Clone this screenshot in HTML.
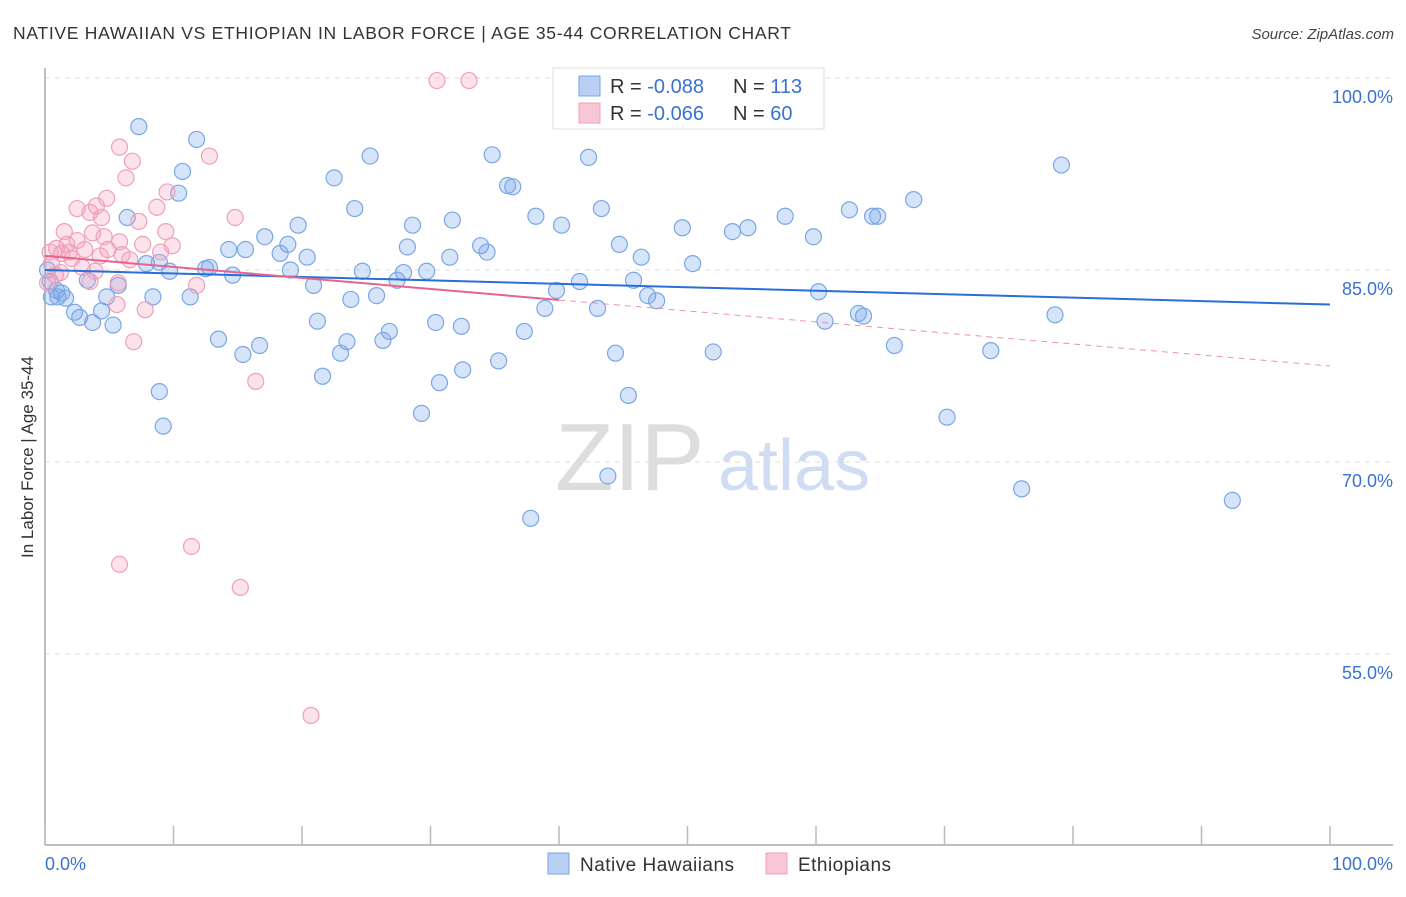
<!DOCTYPE html>
<html><head><meta charset="utf-8"><style>
body{margin:0;background:#fff;font-family:"Liberation Sans",sans-serif;}
svg text{font-family:"Liberation Sans",sans-serif;}
</style></head><body>
<svg id="chart" width="1406" height="892" xmlns="http://www.w3.org/2000/svg">
<text x="13" y="39" font-size="17.5" fill="#333" textLength="778" lengthAdjust="spacing">NATIVE HAWAIIAN VS ETHIOPIAN IN LABOR FORCE | AGE 35-44 CORRELATION CHART</text>
<text x="1394" y="39" font-size="15" fill="#444" font-style="italic" text-anchor="end">Source: ZipAtlas.com</text>
<g>
<text x="555" y="490" font-size="96" fill="#ddd" font-family="Liberation Serif, serif">ZIP</text>
<text x="718" y="490" font-size="72" fill="#cfdcf3">atlas</text>
</g>
<g id="grid"></g>
<g id="axes"></g>
<text transform="translate(33,457) rotate(-90)" font-size="17" fill="#333" text-anchor="middle">In Labor Force | Age 35-44</text>
<g id="pts"></g>
<g id="trends"></g>
<g>
<rect x="553" y="68" width="271" height="61" fill="#fff" stroke="#ddd"/>
<rect x="579" y="76" width="21" height="20" fill="#b7d0f4" stroke="#7aa6e6"/>
<rect x="579" y="103" width="21" height="20" fill="#f9c6d5" stroke="#eea0b8"/>
<text x="610" y="93" font-size="20" fill="#333">R = <tspan fill="#3a72d0">-0.088</tspan></text>
<text x="733" y="93" font-size="20" fill="#333">N = <tspan fill="#3a72d0">113</tspan></text>
<text x="610" y="120" font-size="20" fill="#333">R = <tspan fill="#3a72d0">-0.066</tspan></text>
<text x="733" y="120" font-size="20" fill="#333">N = <tspan fill="#3a72d0"> 60</tspan></text>
</g>
<g>
<rect x="548" y="853" width="21" height="21" fill="#b7d0f4" stroke="#7aa6e6"/>
<text x="580" y="871" font-size="19" fill="#333" textLength="154">Native Hawaiians</text>
<rect x="766" y="853" width="21" height="21" fill="#f9c6d5" stroke="#eea0b8"/>
<text x="798" y="871" font-size="19" fill="#333" textLength="93">Ethiopians</text>
</g>
</svg>
<script>
const blueX=[7.3,11.8,10.7,10.4,6.4,17.1,18.9,15.6,14.3,18.3,20.4,12.8,12.5,14.6,9.7,8.9,7.9,5.7,3.3,0.5,1.6,1.0,4.8,8.4,11.3,2.3,2.7,3.7,5.3,4.4,13.5,16.7,15.4,8.9,9.2,22.5,25.3,24.1,19.7,19.1,20.9,21.2,23.0,23.5,23.8,24.7,25.8,26.3,26.8,21.6,28.2,27.9,28.6,27.4,29.7,31.7,31.5,33.9,34.4,34.8,36.0,36.4,38.2,40.2,30.4,32.4,32.5,30.7,29.3,35.3,37.3,39.8,38.9,41.6,43.0,43.3,42.3,44.7,46.4,45.8,46.9,47.6,44.4,45.4,43.8,37.8,49.6,50.4,52.0,53.5,54.7,57.6,59.4,59.8,60.2,60.7,62.6,64.4,64.8,63.7,63.3,66.1,67.6,70.2,73.6,76.0,78.6,79.1,92.4,0.2,0.4,0.9,1.3];
const blueY=[96.2,95.2,92.7,91.0,89.1,87.6,87.0,86.6,86.6,86.3,86.0,85.2,85.1,84.6,84.9,85.6,85.5,83.8,84.2,82.9,82.8,82.9,82.9,82.9,82.9,81.7,81.3,80.9,80.7,81.8,79.6,79.1,78.4,75.5,72.8,92.2,93.9,89.8,88.5,85.0,83.8,81.0,78.5,79.4,82.7,84.9,83.0,79.5,80.2,76.7,86.8,84.8,88.5,84.2,84.9,88.9,86.0,86.9,86.4,94.0,91.6,91.5,89.2,88.5,80.9,80.6,77.2,76.2,73.8,77.9,80.2,83.4,82.0,84.1,82.0,89.8,93.8,87.0,86.0,84.2,83.0,82.6,78.5,75.2,68.9,65.6,88.3,85.5,78.6,88.0,88.3,89.2,99.9,87.6,83.3,81.0,89.7,89.2,89.2,81.4,81.6,79.1,90.5,73.5,78.7,67.9,81.5,93.2,67.0,85.0,84.1,83.4,83.2];
const pinkX=[30.5,33.0,5.8,6.8,12.8,6.3,9.5,4.8,4.0,2.5,3.5,8.7,4.4,14.8,7.3,1.5,3.7,4.6,9.4,5.8,9.9,7.6,2.5,1.7,0.9,0.4,1.3,1.9,3.1,4.9,6.0,9.0,4.3,0.5,2.9,3.9,1.2,5.7,3.5,11.8,5.6,7.8,6.9,16.4,11.4,5.8,15.2,20.7,0.2,0.8,2.1,6.6];
const pinkY=[99.8,99.8,94.6,93.5,93.9,92.2,91.1,90.6,90.0,89.8,89.5,89.9,89.1,89.1,88.8,88.0,87.9,87.6,88.0,87.2,86.9,87.0,87.3,87.0,86.7,86.4,86.3,86.4,86.6,86.6,86.2,86.4,86.1,85.5,85.2,84.9,84.8,84.0,84.1,83.8,82.3,81.9,79.4,76.3,63.4,62.0,60.2,50.2,84.0,84.6,85.9,85.8];
const yTicks=[100,85,70,55];
const yTickLabels=["100.0%","85.0%","70.0%","55.0%"];
const xTicks=[0,10,20,30,40,50,60,70,80,90,100];
const blueTrend=[85.0,82.3];
const pinkTrend=[86.1,77.5];
const pinkSolidEnd=40;

const X0=45,X1=1330;
const sx=v=>X0+(v/100)*(X1-X0);
const sy=v=>270-(v-85)*12.8;
const NS="http://www.w3.org/2000/svg";
function mk(tag,attrs,parent){const e=document.createElementNS(NS,tag);for(const k in attrs)e.setAttribute(k,attrs[k]);parent.appendChild(e);return e;}
const grid=document.getElementById('grid'),axes=document.getElementById('axes');
yTicks.forEach((t,i)=>{
  const l=mk('line',{x1:X0,x2:1393,y1:sy(t),y2:sy(t),stroke:'#ddd','stroke-dasharray':'5,5'},grid);
  
  
  const tx=mk('text',{x:1393,y:sy(t)+25,'font-size':18,fill:'#3a72d0','text-anchor':'end'},axes);
  tx.textContent=yTickLabels[i];
  
  
});
const al=mk('line',{x1:X0,x2:X0,y1:68,y2:845,stroke:'#aaa','stroke-width':1.5},axes);


const bl=mk('line',{x1:X0,x2:1393,y1:845,y2:845,stroke:'#aaa','stroke-width':1.5},axes);


xTicks.forEach(t=>{
  const l=mk('line',{x1:sx(t),x2:sx(t),y1:826,y2:845,stroke:'#bbb','stroke-width':1.5},axes);
  
  
});
const xl0=mk('text',{x:45,y:870,'font-size':18,fill:'#3a72d0'},axes);xl0.textContent='0.0%';


const xl1=mk('text',{x:1393,y:870,'font-size':18,fill:'#3a72d0','text-anchor':'end'},axes);xl1.textContent='100.0%';


const pts=document.getElementById('pts');


blueX.forEach((x,i)=>{
  const c=mk('circle',{cx:sx(x),cy:sy(blueY[i]),r:8,fill:'rgba(120,165,235,0.3)',stroke:'#7aa6e6','stroke-width':1.2},pts);
  
  
});
pinkX.forEach((x,i)=>{
  const c=mk('circle',{cx:sx(x),cy:sy(pinkY[i]),r:8,fill:'rgba(245,160,190,0.3)',stroke:'#eea0b8','stroke-width':1.2},pts);
  
  
});
const tr=document.getElementById('trends');


const bt=mk('line',{x1:sx(0),y1:sy(blueTrend[0]),x2:sx(100),y2:sy(blueTrend[1]),stroke:'#2a6fd6','stroke-width':2},tr);


const pm=pinkTrend[0]+(pinkTrend[1]-pinkTrend[0])*pinkSolidEnd/100;
const ps=mk('line',{x1:sx(0),y1:sy(pinkTrend[0]),x2:sx(pinkSolidEnd),y2:sy(pm),stroke:'#e8648c','stroke-width':2},tr);


const pd=mk('line',{x1:sx(pinkSolidEnd),y1:sy(pm),x2:sx(100),y2:sy(pinkTrend[1]),stroke:'#e8648c','stroke-width':1,'stroke-dasharray':'6,5',opacity:0.7},tr);


</script>
</body></html>
